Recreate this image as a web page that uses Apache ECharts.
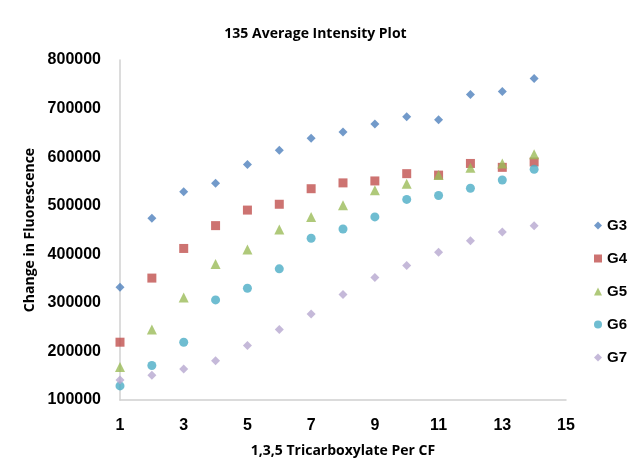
<!DOCTYPE html>
<html>
<head>
<meta charset="utf-8">
<script src="https://cdn.jsdelivr.net/npm/echarts@6/dist/echarts.min.js"></script>
<style>
html,body{margin:0;padding:0;background:#fff;}
#chart{width:631px;height:466px;}
</style>
</head>
<body>
<div id="chart"></div>
<script>
var xValues = [1,2,3,4,5,6,7,8,9,10,11,12,13,14];
var seriesNames = ['G3','G4','G5','G6','G7'];
var g3 = [332000,474000,529000,546000,585000,614000,639000,652000,668000,683000,677000,729000,735000,762000];
var g4 = [219000,351000,412000,459000,491000,503000,535000,547000,551000,566000,563000,587000,579000,590000];
var g5 = [168000,245000,311000,380000,410000,451000,477000,501000,532000,545000,563000,578000,587000,606000];
var g6 = [129000,171000,219000,306000,330000,370000,433000,452000,477000,513000,521000,536000,553000,575000];
var g7 = [141000,151000,164000,181000,212000,245000,277000,317000,352000,377000,404000,428000,446000,459000];
var xTickMin = 1, xTickMax = 15;
var yTickMin = 100000, yTickMax = 800000, yTickStep = 100000;

var allData = [g3,g4,g5,g6,g7];
var colors = ['#4f81bd','#c0504d','#9bbb59','#4bacc6','#b7a8cf'];
var symbols = ['diamond','rect','triangle','circle','diamond'];
var sizes = [9,9,10,9,9];

function pairs(arr){ return xValues.map(function(x,i){ return [x, arr[i]]; }); }

var fontFam = '"Open Sans", "Liberation Sans", sans-serif';
var numFont = '"Liberation Sans", Arial, sans-serif';
var chart = echarts.init(document.getElementById('chart'), null, {renderer:'canvas'});
chart.setOption({
  animation:false,
  backgroundColor:'#ffffff',
  title:{
    text:'135 Average Intensity Plot',
    left:'center', top:22,
    textStyle:{fontFamily:fontFam, fontSize:14, fontWeight:'bold', color:'#000'}
  },
  legend:{
    orient:'vertical', left:589, top:213,
    itemWidth:8, itemHeight:8, itemGap:18,
    data: seriesNames.map(function(n,i){ return {name:n, icon:symbols[i]}; }),
    textStyle:{fontFamily:numFont, fontSize:15, fontWeight:'bold', color:'#000'}
  },
  grid:{left:120, right:65, top:60, bottom:66, containLabel:false},
  xAxis:{
    type:'value', min:xTickMin, max:xTickMax, interval:1,
    name:'1,3,5 Tricarboxylate Per CF', nameLocation:'middle', nameGap:44,
    nameTextStyle:{fontFamily:fontFam, fontSize:14, fontWeight:'bold', color:'#000'},
    axisLine:{show:true, lineStyle:{color:'#d0d0d0', width:1.5}},
    axisTick:{show:false},
    splitLine:{show:false},
    axisLabel:{
      margin:18, fontFamily:numFont, fontSize:16, fontWeight:'bold', color:'#000',
      formatter:function(v){ return (v % 2 === 1) ? String(v) : ''; }
    }
  },
  yAxis:{
    type:'value', min:yTickMin, max:yTickMax, interval:yTickStep,
    name:'Change in Fluorescence', nameLocation:'middle', nameGap:75,
    nameTextStyle:{fontFamily:fontFam, fontSize:14, fontWeight:'bold', color:'#000'},
    axisLine:{show:true, lineStyle:{color:'#d0d0d0', width:1.5}},
    axisTick:{show:false},
    splitLine:{show:false},
    axisLabel:{margin:19, fontFamily:numFont, fontSize:16, fontWeight:'bold', color:'#000',
      formatter:function(v){ return String(v); }}
  },
  series: seriesNames.map(function(n,i){
    return {
      name:n, type:'scatter', data:pairs(allData[i]),
      symbol:symbols[i], symbolSize:sizes[i],
      itemStyle:{color:colors[i]}
    };
  })
});
</script>
</body>
</html>
